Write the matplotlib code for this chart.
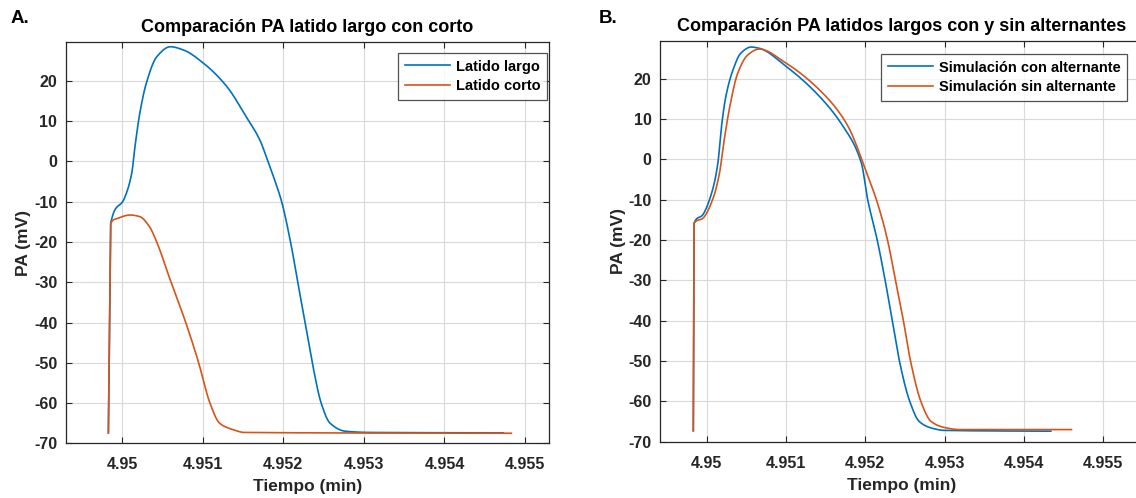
import numpy as np
import matplotlib.pyplot as plt
from matplotlib.ticker import FixedLocator, FuncFormatter

plt.rcParams['font.family'] = ['Liberation Sans', 'DejaVu Sans']
plt.rcParams['font.weight'] = 'bold'
plt.rcParams['axes.unicode_minus'] = False

# panel A: latido largo / latido corto  (t in min, PA in mV)
t_largo = [4.94983, 4.94985, 4.94986, 4.95003, 4.95012, 4.95016, 4.95022, 4.95030,
           4.95043, 4.95060, 4.95076, 4.95101, 4.95130, 4.95154, 4.95171, 4.95181,
           4.95190, 4.95198, 4.95209, 4.95218, 4.95227, 4.95236, 4.95247, 4.95258,
           4.95277, 4.95308, 4.95473]
v_largo = [-67.4, -30.0, -15.3, -9.1, -2.9, 3.7, 12.0, 19.4,
           26.0, 28.5, 27.7, 24.4, 18.6, 11.1, 5.3, 0.0,
           -5.0, -10.0, -20.0, -30.0, -40.0, -50.0, -60.0, -65.0,
           -67.0, -67.3, -67.4]

t_corto = [4.94983, 4.94985, 4.94986, 4.94995, 4.95010, 4.95022, 4.95034, 4.95043,
           4.95059, 4.95079, 4.95095, 4.95109, 4.95121, 4.95136, 4.95152, 4.95483]
v_corto = [-67.4, -30.0, -15.3, -14.1, -13.3, -13.7, -16.2, -20.0,
           -29.0, -40.0, -50.0, -60.0, -65.0, -66.5, -67.3, -67.5]

# panel B: simulacion con / sin alternante
t_con = [4.94983, 4.94984, 4.94995, 4.95006, 4.95014, 4.95018, 4.95024, 4.95033,
         4.95043, 4.95056, 4.95066, 4.95100, 4.95138, 4.95172, 4.95195, 4.95203,
         4.95215, 4.95225, 4.95234, 4.95243, 4.95256, 4.95268, 4.95283, 4.95300,
         4.95434]
v_con = [-67.3, -15.8, -13.7, -8.4, -0.9, 7.3, 15.6, 22.2,
         26.4, 27.9, 27.6, 23.1, 16.5, 8.2, -0.9, -10.0,
         -20.0, -30.0, -40.0, -50.0, -60.0, -65.0, -66.6, -67.2,
         -67.4]

t_sin = [4.94983, 4.94984, 4.94995, 4.95008, 4.95016, 4.95022, 4.95029, 4.95039,
         4.95052, 4.95066, 4.95100, 4.95142, 4.95176, 4.95205, 4.95214, 4.95228,
         4.95238, 4.95248, 4.95257, 4.95270, 4.95283, 4.95300, 4.95319, 4.95460]
v_sin = [-67.3, -15.8, -14.6, -9.6, -3.4, 4.9, 13.1, 21.4,
         26.0, 27.4, 23.9, 17.3, 9.0, -5.1, -10.0, -20.0,
         -30.0, -40.0, -50.0, -60.0, -65.0, -66.5, -67.0, -67.0]

xticks = [4.95, 4.951, 4.952, 4.953, 4.954, 4.955]
yticks = [-70, -60, -50, -40, -30, -20, -10, 0, 10, 20]

blue = '#0072BD'
orange = '#D95319'
dark = '#262626'
W, H = 1136.0, 498.0


def smooth(t, v):
    # monotone cubic through the read points so the trace looks continuous
    t = np.asarray(t)
    v = np.asarray(v)
    h = np.diff(t)
    d = np.diff(v) / h
    m = np.zeros_like(v)
    m[0], m[-1] = d[0], d[-1]
    for i in range(1, len(v) - 1):
        if d[i - 1] * d[i] > 0:
            w1 = 2 * h[i] + h[i - 1]
            w2 = h[i] + 2 * h[i - 1]
            m[i] = (w1 + w2) / (w1 / d[i - 1] + w2 / d[i])
    tt, vv = [], []
    for i in range(len(h)):
        s = np.linspace(0, 1, 30)
        h00 = 2 * s**3 - 3 * s**2 + 1
        h10 = s**3 - 2 * s**2 + s
        h01 = -2 * s**3 + 3 * s**2
        h11 = s**3 - s**2
        tt.extend(t[i] + s * h[i])
        vv.extend(h00 * v[i] + h10 * h[i] * m[i] + h01 * v[i + 1] + h11 * h[i] * m[i + 1])
    return tt, vv


fig = plt.figure(figsize=(11.36, 4.98), dpi=100)
ax1 = fig.add_axes([0.0578, 0.1098, 0.4257, 0.8065])
ax2 = fig.add_axes([0.5810, 0.1131, 0.4257, 0.8046])

panels = [
    (ax1, (t_largo, v_largo, 'Latido largo'), (t_corto, v_corto, 'Latido corto'),
     'Comparación PA latido largo con corto', (4.94930, 4.95530), 29.75, (547, 53)),
    (ax2, (t_con, v_con, 'Simulación con alternante'), (t_sin, v_sin, 'Simulación sin alternante'),
     'Comparación PA latidos largos con y sin alternantes', (4.94941, 4.95551), 29.4, (1127, 54)),
]

for ax, s1, s2, title, xl, ytop, legpos in panels:
    for (t, v, lab), c in [(s1, blue), (s2, orange)]:
        tt, vv = smooth(t, v)
        ax.plot(tt, vv, color=c, lw=1.2, label=lab)
    ax.set_xlim(*xl)
    ax.set_ylim(-70, ytop)
    ax.xaxis.set_major_locator(FixedLocator(xticks))
    ax.yaxis.set_major_locator(FixedLocator(yticks))
    ax.xaxis.set_major_formatter(FuncFormatter(lambda x, p: '%g' % round(x, 3)))
    ax.grid(True, color='#d9d9d9', lw=0.8)
    ax.tick_params(direction='in', top=True, right=True, length=4, width=0.8,
                   colors=dark, labelsize=11.5)
    ax.tick_params(axis='x', pad=10)
    ax.tick_params(axis='y', pad=6)
    for lbl in ax.get_xticklabels() + ax.get_yticklabels():
        lbl.set_fontweight('bold')
    for sp in ax.spines.values():
        sp.set_color(dark)
        sp.set_linewidth(0.9)
    ax.set_title(title, fontsize=13, fontweight='bold', color='black', pad=7)
    ax.set_xlabel('Tiempo (min)', fontsize=12.5, fontweight='bold', color=dark, labelpad=5)
    ax.set_ylabel('PA (mV)', fontsize=12.5, fontweight='bold', color=dark, labelpad=2)
    leg = ax.legend(loc='upper right', bbox_to_anchor=(legpos[0] / W, 1 - legpos[1] / H),
                    bbox_transform=fig.transFigure, borderaxespad=0,
                    fontsize=10.5, frameon=True, fancybox=False,
                    handlelength=3.1, handletextpad=0.4,
                    borderpad=0.45, labelspacing=0.4)
    leg.get_frame().set_edgecolor(dark)
    leg.get_frame().set_linewidth(0.9)
    for tx in leg.get_texts():
        tx.set_fontweight('bold')

fig.text(0.009, 0.963, 'A.', fontsize=13.5, fontweight='bold', ha='left', va='center')
fig.text(0.527, 0.963, 'B.', fontsize=13.5, fontweight='bold', ha='left', va='center')

fig.savefig('out.png', dpi=100)
